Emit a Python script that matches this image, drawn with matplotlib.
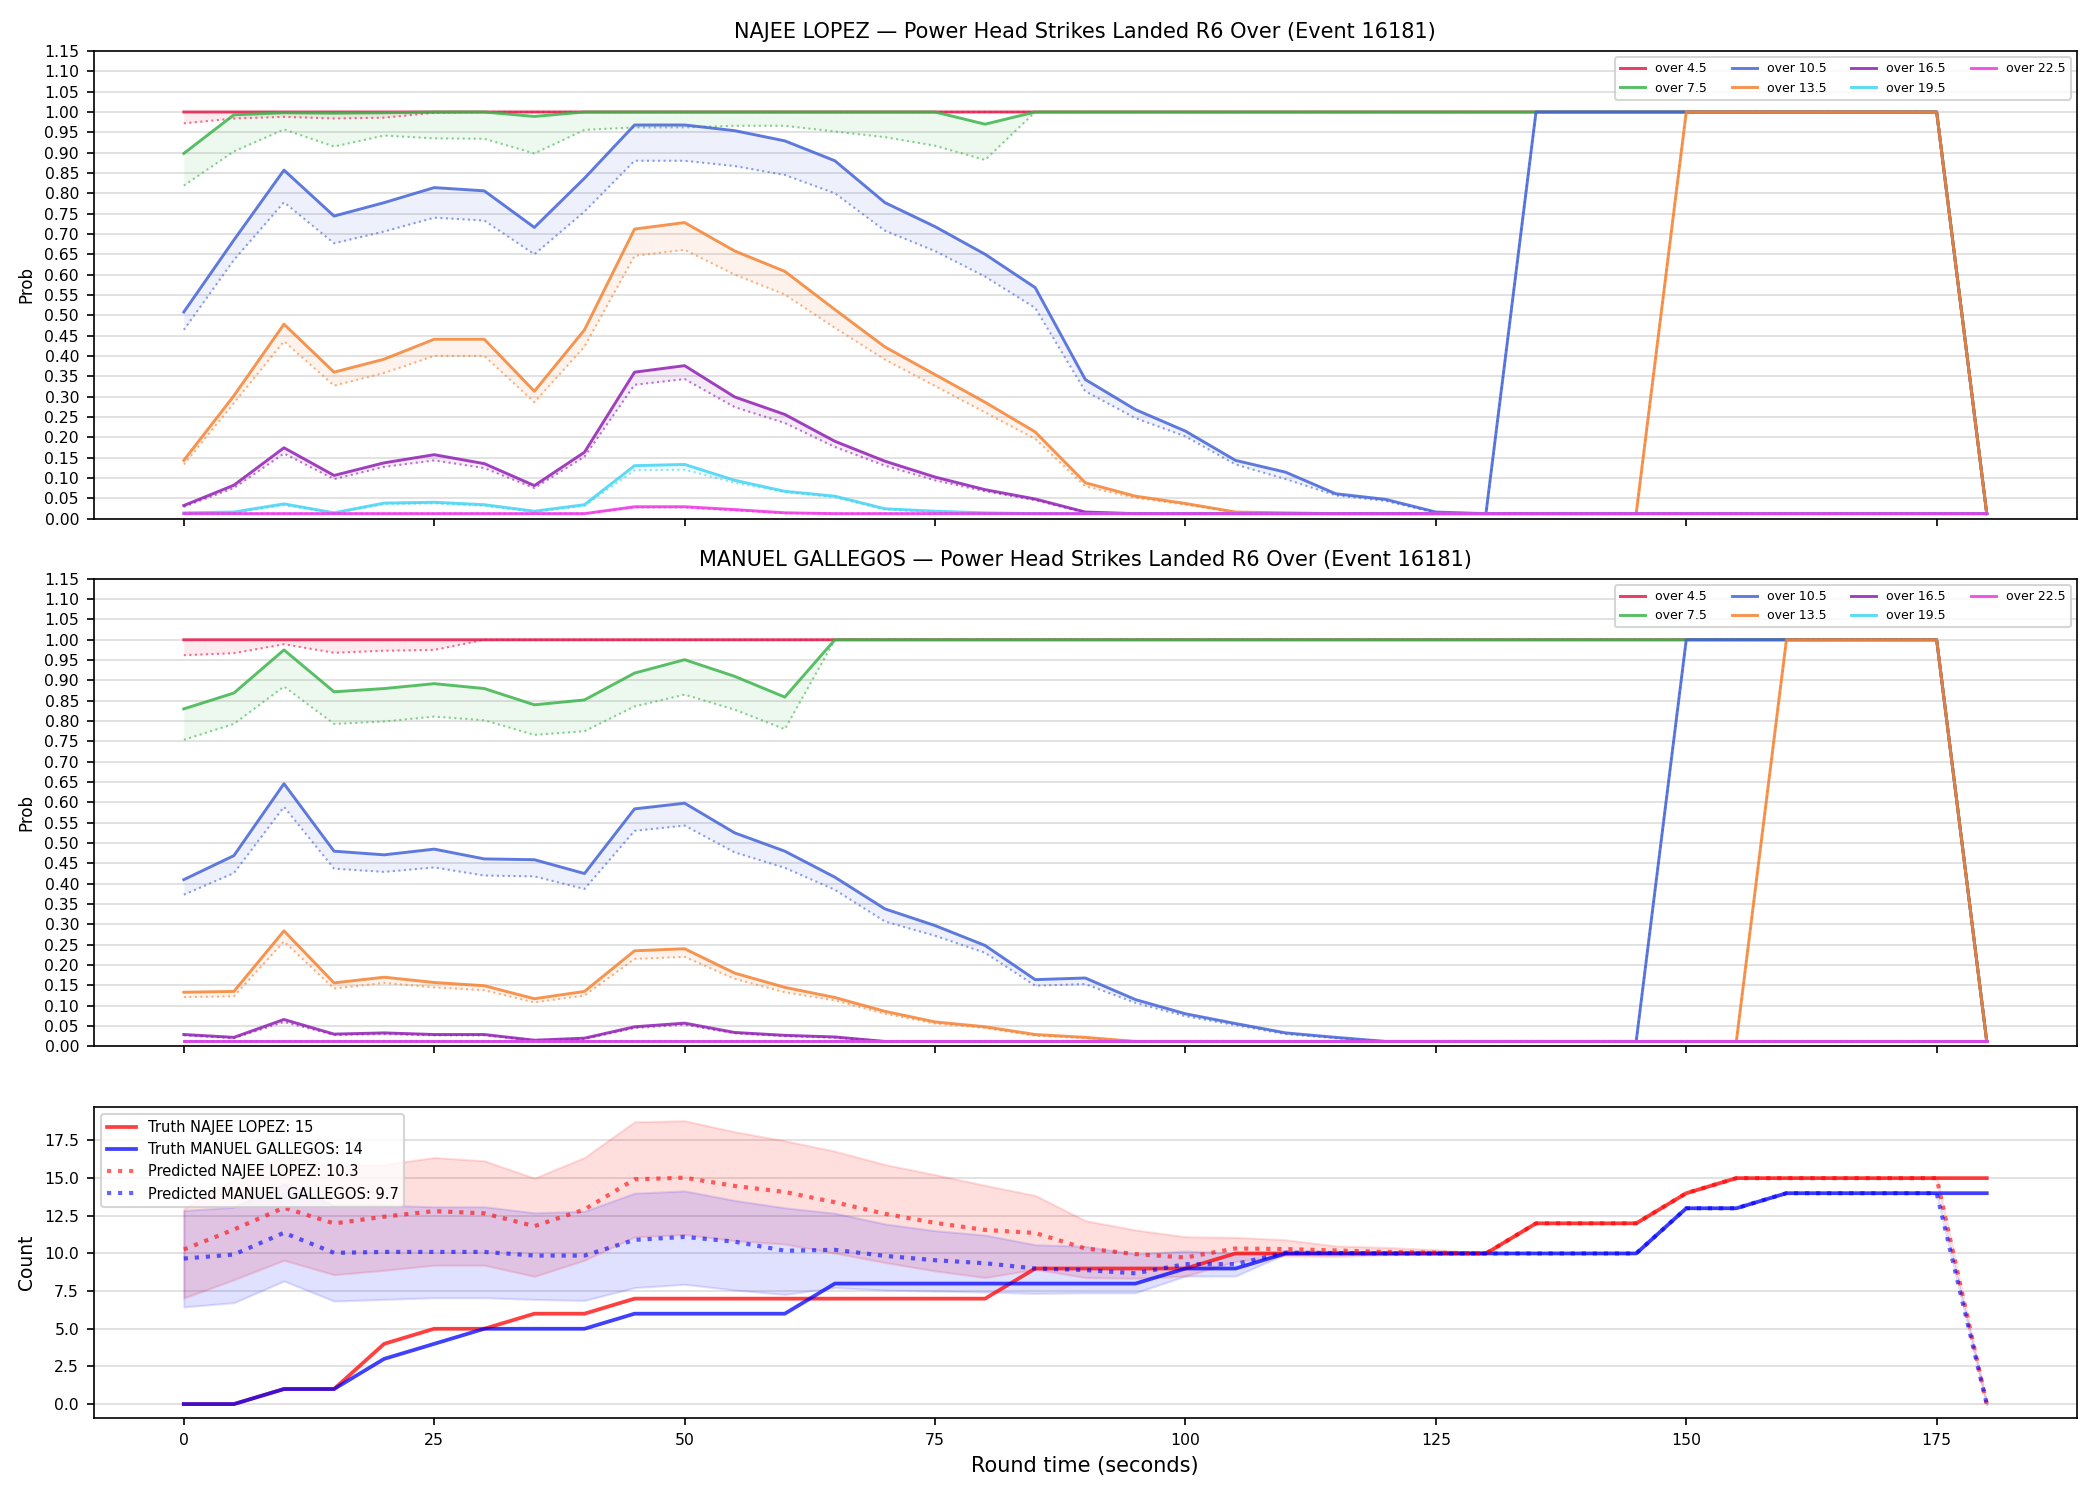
import numpy as np
import matplotlib
matplotlib.use("Agg")
from matplotlib import pyplot as plt

# round time grid (seconds)
t = np.arange(0, 185, 5)

thresholds = ["over 4.5", "over 7.5", "over 10.5", "over 13.5", "over 16.5", "over 19.5", "over 22.5"]
colors = ["#e6194b", "#3cb44b", "#4363d8", "#f58231", "#911eb4", "#42d4f4", "#f032e6"]

F = 0.012  # floor value

# ---- NAJEE LOPEZ: truth / predicted prob per line ----
najee_truth = {
    "over 4.5": [1.0] * 36 + [F],
    "over 7.5": [0.898, 0.993, 0.998, 0.997, 0.998, 1.0, 1.0, 0.989, 1.0, 1.0, 1.0, 1.0, 1.0, 1.0, 1.0, 1.0,
                 0.970] + [1.0] * 19 + [F],
    "over 10.5": [0.508, 0.685, 0.857, 0.744, 0.777, 0.814, 0.806, 0.716, 0.837, 0.968, 0.968, 0.954, 0.929,
                  0.880, 0.777, 0.718, 0.650, 0.568, 0.342, 0.268, 0.215, 0.143, 0.114, 0.061, 0.047, 0.016,
                  F] + [1.0] * 9 + [F],
    "over 13.5": [0.143, 0.302, 0.478, 0.360, 0.392, 0.441, 0.441, 0.313, 0.464, 0.712, 0.728, 0.658, 0.608,
                  0.514, 0.422, 0.354, 0.286, 0.213, 0.088, 0.055, 0.037, 0.016, 0.014] + [F] * 7 + [1.0] * 6 + [F],
    "over 16.5": [0.032, 0.082, 0.174, 0.106, 0.137, 0.157, 0.135, 0.081, 0.163, 0.360, 0.376, 0.299, 0.256,
                  0.190, 0.141, 0.102, 0.071, 0.048, 0.016] + [F] * 18,
    "over 19.5": [0.014, 0.016, 0.036, 0.014, 0.038, 0.040, 0.034, 0.018, 0.034, 0.130, 0.133, 0.094, 0.067,
                  0.055, 0.024, 0.018, 0.014] + [F] * 20,
    "over 22.5": [F] * 9 + [0.029, 0.029, 0.022, 0.014] + [F] * 24,
}
najee_pred = {
    "over 4.5": [0.972, 0.984, 0.988, 0.984, 0.986, 0.998] + [1.0] * 30 + [F],
    "over 7.5": [0.819, 0.903, 0.957, 0.915, 0.942, 0.935, 0.934, 0.898, 0.956, 0.962, 0.962, 0.966, 0.966,
                 0.952, 0.938, 0.917, 0.882] + [1.0] * 19 + [F],
    "over 10.5": [0.464, 0.636, 0.778, 0.677, 0.706, 0.740, 0.733, 0.650, 0.755, 0.880, 0.880, 0.867, 0.845,
                  0.800, 0.708, 0.658, 0.595, 0.518, 0.313, 0.247, 0.202, 0.133, 0.097, 0.057, 0.043, 0.014,
                  F] + [1.0] * 9 + [F],
    "over 13.5": [0.133, 0.284, 0.436, 0.327, 0.358, 0.400, 0.400, 0.286, 0.423, 0.646, 0.661, 0.600, 0.551,
                  0.469, 0.391, 0.326, 0.261, 0.196, 0.079, 0.051, 0.034, 0.015, 0.013] + [F] * 7 + [1.0] * 6 + [F],
    "over 16.5": [0.029, 0.075, 0.160, 0.097, 0.127, 0.143, 0.124, 0.075, 0.152, 0.329, 0.343, 0.274, 0.235,
                  0.176, 0.130, 0.094, 0.067, 0.045, 0.014] + [F] * 18,
    "over 19.5": [0.013, 0.014, 0.033, 0.013, 0.035, 0.037, 0.031, 0.016, 0.031, 0.119, 0.120, 0.088, 0.065,
                  0.052, 0.022, 0.016, 0.013] + [F] * 20,
    "over 22.5": [F] * 9 + [0.027, 0.027, 0.020, 0.013] + [F] * 24,
}

# ---- MANUEL GALLEGOS ----
manuel_truth = {
    "over 4.5": [1.0] * 36 + [F],
    "over 7.5": [0.830, 0.869, 0.975, 0.872, 0.880, 0.892, 0.880, 0.840, 0.852, 0.918, 0.951, 0.910,
                 0.859] + [1.0] * 23 + [F],
    "over 10.5": [0.410, 0.469, 0.646, 0.480, 0.471, 0.485, 0.461, 0.459, 0.425, 0.584, 0.598, 0.525, 0.480,
                  0.416, 0.338, 0.297, 0.248, 0.164, 0.168, 0.115, 0.080, 0.056, 0.033, 0.022] + [F] * 6
                 + [1.0] * 6 + [F],
    "over 13.5": [0.133, 0.135, 0.284, 0.156, 0.170, 0.157, 0.149, 0.117, 0.135, 0.235, 0.240, 0.180, 0.145,
                  0.120, 0.086, 0.060, 0.048, 0.029, 0.022] + [F] * 13 + [1.0] * 4 + [F],
    "over 16.5": [0.029, 0.022, 0.066, 0.030, 0.033, 0.029, 0.029, 0.015, 0.020, 0.048, 0.057, 0.034, 0.027,
                  0.023] + [F] * 23,
    "over 19.5": [F] * 37,
    "over 22.5": [F] * 37,
}
manuel_pred = {
    "over 4.5": [0.962, 0.967, 0.989, 0.968, 0.973, 0.975] + [1.0] * 30 + [F],
    "over 7.5": [0.754, 0.793, 0.885, 0.793, 0.799, 0.811, 0.802, 0.766, 0.775, 0.836, 0.865, 0.828,
                 0.780] + [1.0] * 23 + [F],
    "over 10.5": [0.373, 0.426, 0.589, 0.437, 0.429, 0.440, 0.420, 0.418, 0.387, 0.530, 0.543, 0.477, 0.439,
                  0.385, 0.307, 0.272, 0.230, 0.149, 0.153, 0.107, 0.074, 0.052, 0.030, 0.020] + [F] * 6
                 + [1.0] * 6 + [F],
    "over 13.5": [0.121, 0.123, 0.258, 0.142, 0.156, 0.145, 0.138, 0.108, 0.125, 0.215, 0.220, 0.166, 0.133,
                  0.113, 0.080, 0.056, 0.045, 0.026, 0.020] + [F] * 13 + [1.0] * 4 + [F],
    "over 16.5": [0.027, 0.020, 0.060, 0.028, 0.030, 0.027, 0.027, 0.014, 0.018, 0.045, 0.053, 0.032, 0.025,
                  0.021] + [F] * 23,
    "over 19.5": [F] * 37,
    "over 22.5": [F] * 37,
}

# ---- cumulative counts ----
truth_najee = [0, 0, 1, 1, 4, 5, 5, 6, 6, 7, 7, 7, 7, 7, 7, 7, 7, 9, 9, 9, 9, 10, 10, 10, 10, 10, 10,
               12, 12, 12, 14, 15, 15, 15, 15, 15, 15]
truth_manuel = [0, 0, 1, 1, 3, 4, 5, 5, 5, 6, 6, 6, 6, 8, 8, 8, 8, 8, 8, 8, 9, 9, 10, 10, 10, 10, 10,
                10, 10, 10, 13, 13, 14, 14, 14, 14, 14]
pred_najee = [10.26, 11.59, 13.04, 11.99, 12.44, 12.81, 12.66, 11.81, 12.92, 14.92, 15.03, 14.48, 14.08,
              13.40, 12.63, 12.03, 11.56, 11.36, 10.33, 9.96, 9.73, 10.33, 10.29, 10.20, 10.10, 10.05, 10.0,
              12, 12, 12, 14, 15, 15, 15, 15, 15, 0]
pred_najee_hi = [12.97, 14.90, 16.48, 15.80, 15.90, 16.37, 16.15, 15.00, 16.37, 18.74, 18.81, 18.08, 17.48,
                 16.79, 15.90, 15.23, 14.52, 13.85, 12.18, 11.56, 11.11, 11.07, 10.91, 10.50, 10.40, 10.25, 10.0,
                 12, 12, 12, 14, 15, 15, 15, 15, 15, 0]
pred_najee_lo = [7.04, 8.26, 9.55, 8.59, 8.88, 9.22, 9.22, 8.48, 9.55, 11.10, 11.26, 10.85, 10.62,
                 10.02, 9.40, 8.84, 8.40, 8.95, 8.40, 8.35, 8.50, 9.47, 9.84, 9.80, 9.90, 9.95, 10.0,
                 12, 12, 12, 14, 15, 15, 15, 15, 15, 0]
pred_manuel = [9.66, 9.93, 11.37, 10.04, 10.10, 10.10, 10.10, 9.86, 9.86, 10.90, 11.10, 10.78, 10.18,
               10.24, 9.84, 9.55, 9.35, 9.00, 8.90, 8.68, 9.29, 9.29, 10.06, 10.03, 10.0, 10.0, 10.0,
               10, 10, 10, 13, 13, 14, 14, 14, 14, 0]
pred_manuel_hi = [12.85, 13.07, 14.63, 13.20, 13.20, 13.10, 13.10, 12.70, 12.80, 14.00, 14.15, 13.52, 13.03,
                  12.67, 11.96, 11.51, 11.22, 10.58, 10.47, 9.96, 10.16, 10.02, 10.06, 10.03, 10.0, 10.0, 10.0,
                  10, 10, 10, 13, 13, 14, 14, 14, 14, 0]
pred_manuel_lo = [6.45, 6.73, 8.17, 6.84, 6.95, 7.06, 7.06, 6.95, 6.88, 7.73, 7.95, 7.57, 7.28,
                  7.73, 7.57, 7.50, 7.44, 7.35, 7.39, 7.39, 8.50, 8.50, 9.96, 10.03, 10.0, 10.0, 10.0,
                  10, 10, 10, 13, 13, 14, 14, 14, 14, 0]

fig, axes = plt.subplots(3, 1, figsize=(14, 10), dpi=150, sharex=True,
                         gridspec_kw={"height_ratios": [3, 3, 2]})
plt.subplots_adjust(left=0.0446, right=0.989, top=0.966, bottom=0.0545, hspace=0.145)


def _prob_panel(ax, truth, pred, title):
    for name, c in zip(thresholds, colors):
        y_t = np.array(truth[name])
        y_p = np.array(pred[name])
        ax.fill_between(t, y_p, y_t, color=c, alpha=0.09, linewidth=0)
        ax.plot(t, y_p, color=c, linestyle=":", linewidth=1.0, alpha=0.6)
        ax.plot(t, y_t, color=c, linewidth=1.4, alpha=0.85, label=name)
    ax.set_ylim(0, 1.15)
    ax.set_yticks(np.arange(0, 1.151, 0.05))
    ax.set_ylabel("Prob", fontsize=8)
    ax.set_title(title, fontsize=10)
    ax.grid(axis="y", color="#dddddd", linewidth=0.8)
    ax.set_axisbelow(True)
    ax.tick_params(labelsize=7.5)
    ax.legend(loc="upper right", ncol=4, fontsize=6, framealpha=0.8)


_prob_panel(axes[0], najee_truth, najee_pred,
            "NAJEE LOPEZ \u2014 Power Head Strikes Landed R6 Over (Event 16181)")
_prob_panel(axes[1], manuel_truth, manuel_pred,
            "MANUEL GALLEGOS \u2014 Power Head Strikes Landed R6 Over (Event 16181)")

ax = axes[2]
ax.fill_between(t, pred_najee_lo, pred_najee_hi, color="red", alpha=0.13, linewidth=1)
ax.fill_between(t, pred_manuel_lo, pred_manuel_hi, color="blue", alpha=0.12, linewidth=1)
ax.plot(t, truth_najee, color="red", linewidth=1.8, alpha=0.75, label="Truth NAJEE LOPEZ: 15")
ax.plot(t, truth_manuel, color="blue", linewidth=1.8, alpha=0.75, label="Truth MANUEL GALLEGOS: 14")
ax.plot(t, pred_najee, color="red", linestyle=":", linewidth=2, alpha=0.6,
        label="Predicted NAJEE LOPEZ: %.1f" % pred_najee[0])
ax.plot(t, pred_manuel, color="blue", linestyle=":", linewidth=2, alpha=0.6,
        label="Predicted MANUEL GALLEGOS: %.1f" % pred_manuel[0])
ax.set_ylabel("Count", fontsize=9)
ax.set_xlabel("Round time (seconds)", fontsize=10)
ax.set_xticks([0, 25, 50, 75, 100, 125, 150, 175])
ax.grid(axis="y", color="#dddddd", linewidth=0.8)
ax.set_axisbelow(True)
ax.tick_params(labelsize=7.5)
ax.legend(loc="upper left", fontsize=7, framealpha=0.8)

plt.savefig("out.png", dpi=150)
